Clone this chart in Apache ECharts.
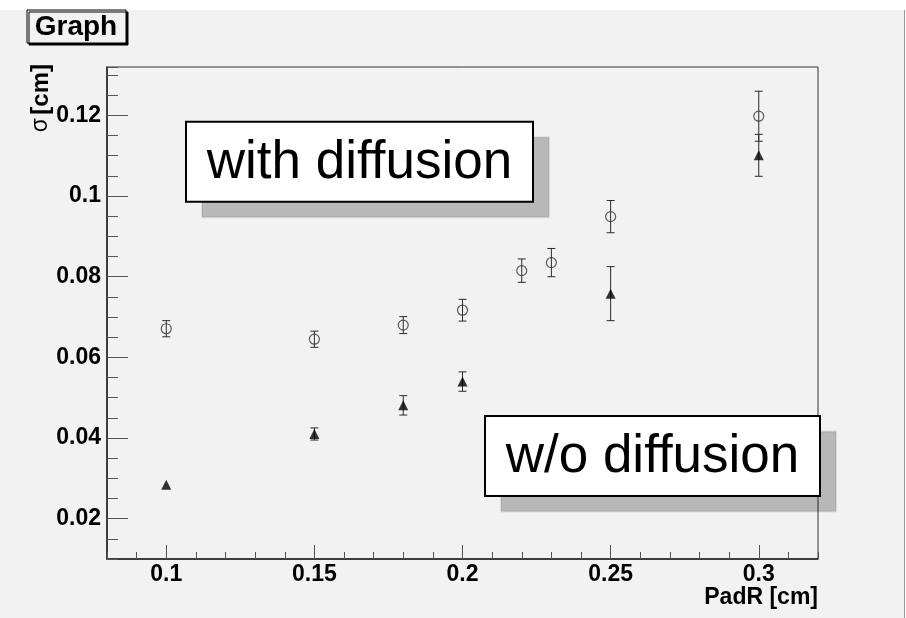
<!DOCTYPE html>
<html>
<head>
<meta charset="utf-8">
<script src="https://cdn.jsdelivr.net/npm/echarts@6/dist/echarts.min.js"></script>
<style>
html,body{margin:0;padding:0;background:#fff;}
#wrap{position:relative;width:906px;height:618px;overflow:hidden;background:#fff;}
#pad{position:absolute;left:0;top:10px;width:904px;height:608px;background:#f2f2f2;border-right:1px solid #9a9a9a;}
#c{position:absolute;left:0;top:0;width:906px;height:618px;}
</style>
</head>
<body>
<div id="wrap"><div id="pad"></div><div id="c"></div></div>
<script>
// ---- data ----
const padRWith      = [0.10, 0.15, 0.18, 0.20, 0.22, 0.23, 0.25, 0.30];
const sigmaWith     = [0.0671, 0.0645, 0.0680, 0.0717, 0.0815, 0.0835, 0.0949, 0.1198];
const errWith       = [0.0020, 0.0020, 0.0021, 0.0027, 0.0029, 0.0035, 0.0040, 0.0062];
const padRWithout   = [0.10, 0.15, 0.18, 0.20, 0.25, 0.30];
const sigmaWithout  = [0.0284, 0.0410, 0.0481, 0.0540, 0.0758, 0.1101];
const errWithout    = [0.0000, 0.0015, 0.0024, 0.0024, 0.0067, 0.0052];
const xTickLabels   = ['0.1', '0.15', '0.2', '0.25', '0.3'];
const yTickLabels   = ['0.02', '0.04', '0.06', '0.08', '0.1', '0.12'];
const xRange = [0.08, 0.32];
const yRange = [0.01, 0.132];
const titleText = 'Graph';
const xTitle = 'PadR [cm]';
const boxWith = 'with diffusion';
const boxWithout = 'w/o diffusion';

const FF = '"Liberation Sans", Arial, Helvetica, sans-serif';

function fmt(list) {
  return function (v) {
    for (const s of list) { if (Math.abs(parseFloat(s) - v) < 1e-9) return s; }
    return '';
  };
}

function errRender(params, api) {
  const x = api.value(0), lo = api.value(1), hi = api.value(2);
  const a = api.coord([x, lo]), b = api.coord([x, hi]);
  if (Math.abs(a[1] - b[1]) < 2) return { type: 'group', children: [] };
  const cap = 4;
  const st = { stroke: '#2a2a2a', lineWidth: 1 };
  return {
    type: 'group',
    children: [
      { type: 'line', shape: { x1: a[0], y1: a[1], x2: b[0], y2: b[1] }, style: st },
      { type: 'line', shape: { x1: a[0] - cap, y1: a[1], x2: a[0] + cap, y2: a[1] }, style: st },
      { type: 'line', shape: { x1: b[0] - cap, y1: b[1], x2: b[0] + cap, y2: b[1] }, style: st }
    ]
  };
}

const errDataWith = padRWith.map((x, i) => [x, sigmaWith[i] - errWith[i], sigmaWith[i] + errWith[i]]);
const errDataWithout = padRWithout.map((x, i) => [x, sigmaWithout[i] - errWithout[i], sigmaWithout[i] + errWithout[i]]);

function textBox(cx, cy, w, h, txt) {
  return [
    { type: 'rect', z: 100, shape: { x: cx - w / 2 + 16, y: cy - h / 2 + 15.5, width: w, height: h },
      style: { fill: 'rgba(0,0,0,0.24)', stroke: 'rgba(0,0,0,0.08)', lineWidth: 2 } },
    { type: 'rect', z: 101, shape: { x: cx - w / 2, y: cy - h / 2, width: w, height: h },
      style: { fill: '#ffffff', stroke: '#000', lineWidth: 2 } },
    { type: 'text', z: 102, x: cx, y: cy + 1.5,
      style: { text: txt, font: '53px ' + FF, fill: '#000', align: 'center', verticalAlign: 'middle' } }
  ];
}

const labelStyle = { fontSize: 23, fontWeight: 'bold', color: '#000', fontFamily: FF };

const chart = echarts.init(document.getElementById('c'), null, { renderer: 'canvas' });
chart.setOption({
  backgroundColor: 'transparent',
  animation: false,
  grid: {
    left: 107, right: 88, top: 67, bottom: 59,
    show: true, borderColor: '#333', borderWidth: 1, backgroundColor: 'transparent',
    containLabel: false, outerBoundsMode: 'none'
  },
  xAxis: [
    {
      type: 'value', min: xRange[0], max: xRange[1], splitNumber: 5, position: 'bottom',
      axisLine: { show: true, lineStyle: { color: '#222', width: 1.5 } },
      axisTick: { show: true, inside: true, length: 14, lineStyle: { color: '#555', width: 1 } },
      axisLabel: Object.assign({ show: true, margin: 4, showMinLabel: false, showMaxLabel: false, formatter: fmt(xTickLabels) }, labelStyle),
      splitLine: { show: false }
    },
    {
      type: 'value', min: xRange[0], max: xRange[1], interval: 0.01, position: 'bottom',
      axisLine: { show: false },
      axisTick: { show: true, inside: true, length: 7, lineStyle: { color: '#555', width: 1 } },
      axisLabel: { show: false },
      splitLine: { show: false }
    }
  ],
  yAxis: [
    {
      type: 'value', min: yRange[0], max: yRange[1], splitNumber: 5, position: 'left',
      axisLine: { show: true, lineStyle: { color: '#222', width: 1.5 } },
      axisTick: { show: true, inside: true, length: 21, lineStyle: { color: '#555', width: 1 } },
      axisLabel: Object.assign({ show: true, margin: 6, showMinLabel: false, showMaxLabel: false, formatter: fmt(yTickLabels) }, labelStyle),
      splitLine: { show: false }
    },
    {
      type: 'value', min: yRange[0], max: yRange[1], interval: 0.005, position: 'left',
      axisLine: { show: false },
      axisTick: { show: true, inside: true, length: 11, lineStyle: { color: '#555', width: 1 } },
      axisLabel: { show: false },
      splitLine: { show: false }
    }
  ],
  series: [
    { type: 'custom', name: 'errWith', xAxisIndex: 0, yAxisIndex: 0, renderItem: errRender,
      data: errDataWith, encode: { x: 0, y: [1, 2] }, z: 3, silent: true },
    { type: 'custom', name: 'errWithout', xAxisIndex: 0, yAxisIndex: 0, renderItem: errRender,
      data: errDataWithout, encode: { x: 0, y: [1, 2] }, z: 3, silent: true },
    { type: 'scatter', name: 'with diffusion', xAxisIndex: 0, yAxisIndex: 0,
      data: padRWith.map((x, i) => [x, sigmaWith[i]]),
      symbol: 'circle', symbolSize: 10, z: 4, silent: true,
      itemStyle: { color: 'rgba(0,0,0,0)', borderColor: '#333', borderWidth: 1.2 } },
    { type: 'scatter', name: 'w/o diffusion', xAxisIndex: 0, yAxisIndex: 0,
      data: padRWithout.map((x, i) => [x, sigmaWithout[i]]),
      symbol: 'triangle', symbolSize: [10, 10], z: 4, silent: true,
      itemStyle: { color: '#000' } }
  ],
  graphic: [
    { type: 'rect', z: 100, shape: { x: 27, y: 10, width: 99, height: 33 },
      style: { fill: '#f2f2f2', stroke: '#000', lineWidth: 1, shadowColor: '#000', shadowOffsetX: 2, shadowOffsetY: 2, shadowBlur: 0 } },
    { type: 'text', z: 101, x: 76, y: 27,
      style: { text: titleText, font: 'bold 28px ' + FF, fill: '#000', align: 'center', verticalAlign: 'middle' } },
    { type: 'text', z: 50, x: 53, y: 64, rotation: Math.PI / 2,
      style: { text: '{s|σ} {b|[cm]}', align: 'right', verticalAlign: 'bottom', fill: '#000',
        rich: { s: { font: '23px ' + FF, fill: '#000' }, b: { font: 'bold 24px ' + FF, fill: '#000' } } } },
    { type: 'text', z: 50, x: 818, y: 598,
      style: { text: xTitle, font: 'bold 23px ' + FF, fill: '#000', align: 'right', verticalAlign: 'middle' } }
  ].concat(textBox(359.5, 161.7, 347, 80, boxWith))
   .concat(textBox(652.5, 455.9, 335, 80, boxWithout))
});
</script>
</body>
</html>
